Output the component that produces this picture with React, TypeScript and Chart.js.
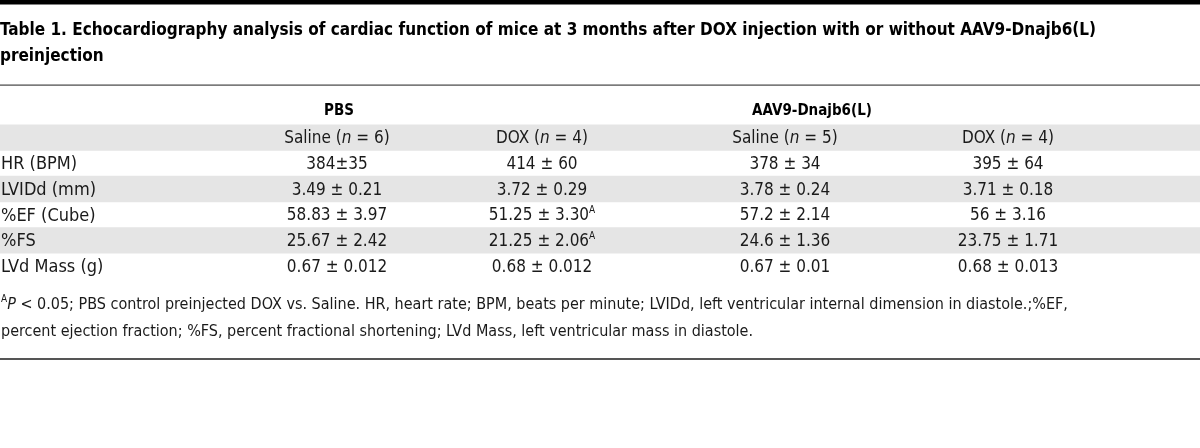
import React, { useEffect, useRef } from 'react';
import { Chart, registerables } from 'chart.js';

Chart.register(...registerables);

// ---------- data ----------
const TITLE_LINES = [
  'Table 1. Echocardiography analysis of cardiac function of mice at 3 months after DOX injection with or without AAV9-Dnajb6(L)',
  'preinjection',
];
const GROUPS = ['PBS', 'AAV9-Dnajb6(L)'];
const COLUMN_NAMES = ['Saline', 'DOX', 'Saline', 'DOX'];
const COLUMN_N = [6, 4, 5, 4];
const ROW_LABELS = ['HR (BPM)', 'LVIDd (mm)', '%EF (Cube)', '%FS', 'LVd Mass (g)'];
const PBS_SALINE = ['384±35', '3.49 ± 0.21', '58.83 ± 3.97', '25.67 ± 2.42', '0.67 ± 0.012'];
const PBS_DOX = ['414 ± 60', '3.72 ± 0.29', '51.25 ± 3.30', '21.25 ± 2.06', '0.68 ± 0.012'];
const PBS_DOX_NOTE = ['', '', 'A', 'A', ''];
const AAV_SALINE = ['378 ± 34', '3.78 ± 0.24', '57.2 ± 2.14', '24.6 ± 1.36', '0.67 ± 0.01'];
const AAV_DOX = ['395 ± 64', '3.71 ± 0.18', '56 ± 3.16', '23.75 ± 1.71', '0.68 ± 0.013'];
const FOOTNOTE_LINE1_REST =
  ' < 0.05; PBS control preinjected DOX vs. Saline. HR, heart rate; BPM, beats per minute; LVIDd, left ventricular internal dimension in diastole.;%EF,';
const FOOTNOTE_LINE2 =
  'percent ejection fraction; %FS, percent fractional shortening; LVd Mass, left ventricular mass in diastole.';

// ---------- layout / style ----------
const W = 1200;
const H = 448;
const FONT = "'Liberation Sans Narrow', 'DejaVu Sans Condensed', 'Liberation Sans', sans-serif";
const BODY_SIZE = 17;
const LABEL_SIZE = 18;
const GROUP_SIZE = 15;
const FOOT_SIZE = 16;
const TITLE_SIZE = 17;
const TITLE_LINE_PX = 26;
// horizontal layout of the columns on the x scale (0..W units)
const COL_CENTERS = [337, 542, 785, 1008];
const GROUP_CENTERS = [339, 812];
const STRIPE = '#e5e5e5';
const TEXT = '#1a1a1a';

type Seg = { t: string; i?: boolean; s?: boolean; b?: boolean };

function drawRich(ctx: CanvasRenderingContext2D, segs: Seg[], x: number, yMid: number, align: 'left' | 'center', size: number, color: string) {
  const fontOf = (sg: Seg) =>
    `${sg.i ? 'italic ' : ''}${sg.b ? 'bold ' : ''}${sg.s ? Math.round(size * 0.6) : size}px ${FONT}`;
  let total = 0;
  for (const sg of segs) {
    ctx.font = fontOf(sg);
    total += ctx.measureText(sg.t).width;
  }
  let cx = align === 'center' ? x - total / 2 : x;
  const base = Math.round(yMid + size * 0.33);
  ctx.fillStyle = color;
  ctx.textAlign = 'left';
  ctx.textBaseline = 'alphabetic';
  for (const sg of segs) {
    ctx.font = fontOf(sg);
    ctx.fillText(sg.t, cx, sg.s ? base - Math.round(size * 0.42) : base);
    cx += ctx.measureText(sg.t).width;
  }
}

const tablePlugin = {
  id: 'tableText',
  beforeDraw(chart: any) {
    const ctx = chart.ctx as CanvasRenderingContext2D;
    ctx.save();
    ctx.fillStyle = '#fff';
    ctx.fillRect(0, 0, chart.width, chart.height);
    ctx.fillStyle = '#000';
    ctx.fillRect(0, 0, chart.width, 4.5);
    ctx.restore();
  },
  afterDatasetsDraw(chart: any) {
    const ctx = chart.ctx as CanvasRenderingContext2D;
    const xs = chart.scales.x;
    const ys = chart.scales.y;
    const area = chart.chartArea;
    const rowH = ys.getPixelForValue(1) - ys.getPixelForValue(0);
    ctx.save();
    // rule under title
    ctx.fillStyle = '#444';
    ctx.fillRect(0, area.top - 14.5, chart.width, 1.2);
    // group headers
    GROUPS.forEach((g, gi) => {
      drawRich(ctx, [{ t: g, b: true }], xs.getPixelForValue(GROUP_CENTERS[gi]), ys.getPixelForValue(0) - 1.5, 'center', GROUP_SIZE, '#000');
    });
    // column headers
    COLUMN_NAMES.forEach((c, ci) => {
      drawRich(
        ctx,
        [{ t: c + ' (' }, { t: 'n', i: true }, { t: ' = ' + COLUMN_N[ci] + ')' }],
        xs.getPixelForValue(COL_CENTERS[ci]),
        ys.getPixelForValue(1),
        'center',
        BODY_SIZE,
        TEXT
      );
    });
    // body rows
    const cols = [PBS_SALINE, PBS_DOX, AAV_SALINE, AAV_DOX];
    ROW_LABELS.forEach((lab, ri) => {
      const y = ys.getPixelForValue(ri + 2);
      drawRich(ctx, [{ t: lab }], area.left + 1, y, 'left', LABEL_SIZE, TEXT);
      cols.forEach((col, ci) => {
        const segs: Seg[] = [{ t: col[ri] }];
        if (ci === 1 && PBS_DOX_NOTE[ri]) segs.push({ t: PBS_DOX_NOTE[ri], s: true });
        drawRich(ctx, segs, xs.getPixelForValue(COL_CENTERS[ci]), y, 'center', BODY_SIZE, TEXT);
      });
    });
    // footnote
    const fy = area.bottom + rowH * 0.5 + 12;
    drawRich(
      ctx,
      [{ t: 'A', s: true }, { t: 'P', i: true }, { t: FOOTNOTE_LINE1_REST }],
      area.left + 1,
      fy,
      'left',
      FOOT_SIZE,
      TEXT
    );
    drawRich(ctx, [{ t: FOOTNOTE_LINE2 }], area.left + 1, fy + 27, 'left', FOOT_SIZE, TEXT);
    // bottom rule
    ctx.fillStyle = '#555';
    ctx.fillRect(0, area.bottom + 79, chart.width, 2);
    ctx.restore();
  },
};

export default function App() {
  const ref = useRef<HTMLCanvasElement | null>(null);
  useEffect(() => {
    if (!ref.current) return;
    const rowLabels = ['', '', ...ROW_LABELS];
    const stripeRows = [1, 3, 5];
    const stripes = rowLabels.map((_, i) => (stripeRows.includes(i) ? [0, W] : null));
    const chart = new Chart(ref.current, {
      type: 'bar',
      data: {
        labels: rowLabels,
        datasets: [
          {
            label: 'stripes',
            data: stripes as any,
            backgroundColor: STRIPE,
            borderWidth: 0,
            barPercentage: 1,
            categoryPercentage: 1,
          },
        ],
      },
      plugins: [tablePlugin],
      options: {
        indexAxis: 'y',
        responsive: false,
        animation: false,
        events: [],
        layout: { padding: { top: 0, left: 0, right: 0, bottom: 169 } },
        scales: {
          x: { type: 'linear', display: false, min: 0, max: W },
          y: { type: 'category', display: false, offset: true },
        },
        plugins: {
          legend: { display: false },
          tooltip: { enabled: false },
          title: {
            display: true,
            text: TITLE_LINES,
            align: 'start',
            color: '#000',
            font: { family: FONT, size: TITLE_SIZE, weight: 'bold', lineHeight: TITLE_LINE_PX / TITLE_SIZE },
            padding: { top: 18, bottom: 29 },
          },
        },
      },
    });
    return () => chart.destroy();
  }, []);
  return (
    <div style={{ position: 'absolute', left: 0, top: 0, width: W, height: H, background: '#fff' }}>
      <canvas ref={ref} width={W} height={H} style={{ display: 'block', width: W, height: H }} />
    </div>
  );
}
